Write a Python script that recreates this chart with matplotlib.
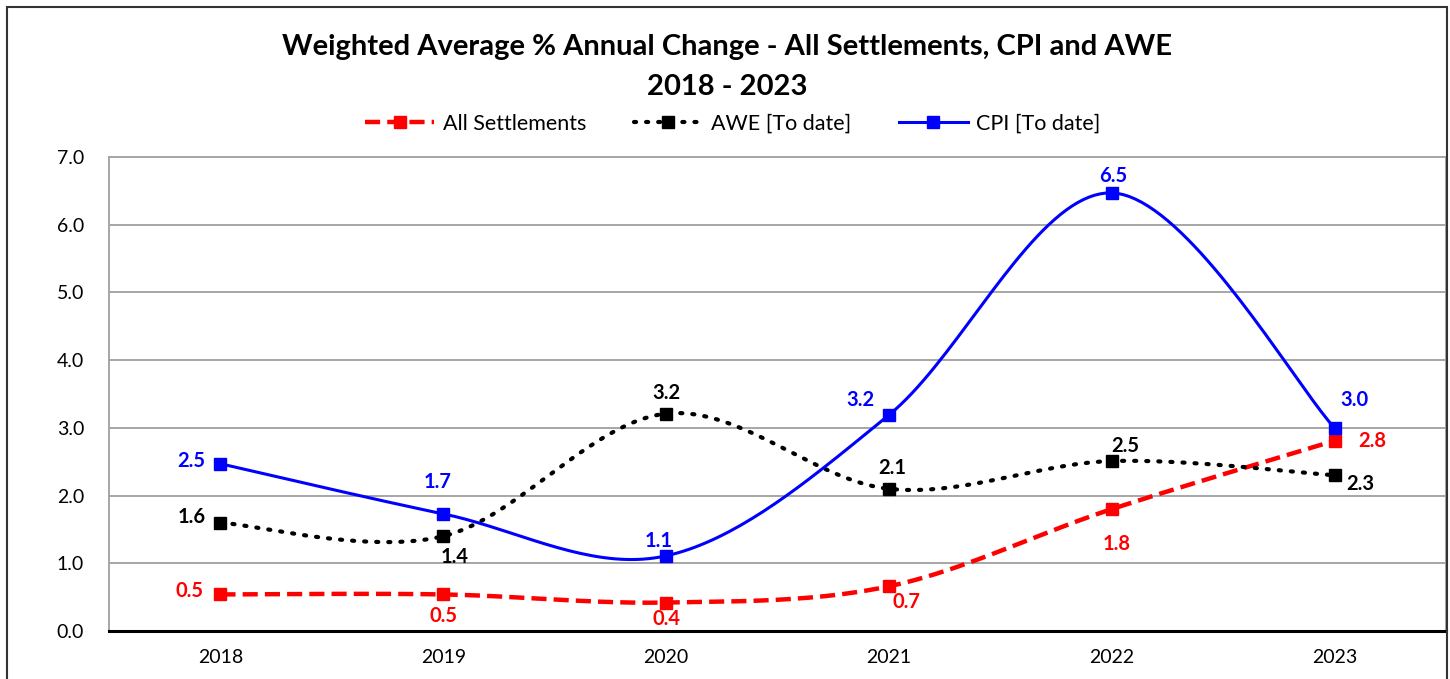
import matplotlib
matplotlib.use('Agg')
import matplotlib.pyplot as plt
from matplotlib.patches import Rectangle
import numpy as np

plt.rcParams['font.family'] = ['Lato', 'DejaVu Sans']

# data
years = ['2018', '2019', '2020', '2021', '2022', '2023']
all_settlements = [0.54, 0.54, 0.42, 0.66, 1.80, 2.81]
awe = [1.60, 1.40, 3.21, 2.10, 2.51, 2.30]
cpi = [2.47, 1.73, 1.11, 3.19, 6.47, 3.00]

# label offsets (pixels) per point
as_off = [(-31, 3), (0, -22), (0, -16), (18, -16), (5, -35), (38, 0)]
awe_off = [(-29, 6), (11, -21), (0, 21), (3, 21), (14, 15), (26, -9)]
cpi_off = [(-29, 3), (-6, 32), (-7, 15), (-29, 15), (1, 17), (20, 28)]


def smooth(xs, ys, n=40):
    # bezier smoothing like Excel's "smoothed line"
    xs = np.asarray(xs, float)
    ys = np.asarray(ys, float)
    px = np.concatenate([[xs[0]], xs, [xs[-1]]])
    py = np.concatenate([[ys[0]], ys, [ys[-1]]])
    outx, outy = [], []
    for i in range(1, len(px) - 2):
        p0 = np.array([px[i], py[i]])
        p3 = np.array([px[i + 1], py[i + 1]])
        p1 = p0 + (p3 - np.array([px[i - 1], py[i - 1]])) / 6
        p2 = p3 - (np.array([px[i + 2], py[i + 2]]) - p0) / 6
        t = np.linspace(0, 1, n)[:, None]
        pts = ((1 - t) ** 3 * p0 + 3 * (1 - t) ** 2 * t * p1
               + 3 * (1 - t) * t ** 2 * p2 + t ** 3 * p3)
        outx.extend(pts[:, 0])
        outy.extend(pts[:, 1])
    return np.array(outx), np.array(outy)


fig = plt.figure(figsize=(14.5, 6.79), dpi=100)
ax = fig.add_axes([109 / 1450, 48 / 679, 1337 / 1450, 474 / 679])

x = np.arange(len(years)) + 0.5

series = [
    (all_settlements, 'All Settlements', '#ff0000', dict(linestyle=(0, (3.4, 1.6)), linewidth=3.2), as_off),
    (awe, 'AWE [To date]', '#000000', dict(linestyle=(0, (0.5, 2.4)), linewidth=3.0, dash_capstyle='round'), awe_off),
    (cpi, 'CPI [To date]', '#0000ff', dict(linestyle='-', linewidth=2.2), cpi_off),
]

handles = []
for vals, name, col, st, offs in series:
    sx, sy = smooth(x, vals)
    ax.plot(sx, sy, color=col, zorder=3, **st)
    ax.plot(x, vals, 's', color=col, markersize=8, zorder=4)
    h, = ax.plot([], [], color=col, marker='s', markersize=8, **st)
    handles.append((h, name))
    for xi, v, (dx, dy) in zip(x, vals, offs):
        ax.annotate(f'{v:.1f}', (xi, v), xytext=(dx, dy), textcoords='offset pixels',
                    ha='center', va='center', color=col, fontsize=14.5,
                    fontweight='bold', zorder=5)

ax.set_xlim(0, len(years))
ax.set_ylim(0, 7)
ax.set_yticks(np.arange(0, 7.01, 1.0))
ax.set_yticklabels([f'{v:.1f}' for v in np.arange(0, 7.01, 1.0)])
ax.set_xticks(x)
ax.set_xticklabels(years)
ax.tick_params(length=0, labelsize=14, pad=13)
ax.tick_params(axis='y', pad=18)
ax.grid(axis='y', color='#a6a6a6', linewidth=1.4)
ax.set_axisbelow(True)
for s in ['top', 'left', 'right']:
    ax.spines[s].set_color('#a6a6a6')
    ax.spines[s].set_linewidth(1.4)
ax.spines['bottom'].set_color('#000000')
ax.spines['bottom'].set_linewidth(2.2)

fig.text(727 / 1450, 1 - 47 / 679, 'Weighted Average % Annual Change - All Settlements, CPI and AWE',
         ha='center', va='center', fontsize=21, fontweight='bold')
fig.text(727 / 1450, 1 - 87 / 679, '2018 - 2023',
         ha='center', va='center', fontsize=21, fontweight='bold')

fig.legend([h for h, _ in handles], [n for _, n in handles], loc='center',
           bbox_to_anchor=(733 / 1450, 1 - 124 / 679), ncol=3, frameon=False,
           fontsize=15.5, handlelength=3.2, columnspacing=2.2, handletextpad=0.4)

fig.add_artist(Rectangle((7 / 1450, -0.05), 1440 / 1450, 1.05 - 7 / 679,
                         transform=fig.transFigure, fill=False,
                         edgecolor='#333333', linewidth=1.5))

fig.savefig('out.png', dpi=100)
